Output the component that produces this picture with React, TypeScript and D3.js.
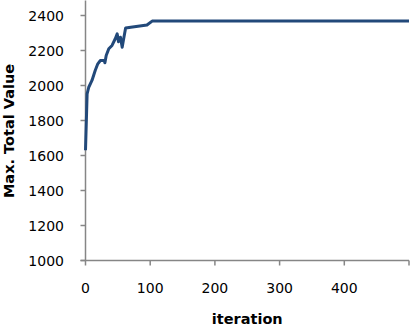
import React from "react";
import * as d3 from "d3";

const iterations = [0, 2.5, 5, 10, 15, 19, 23, 29, 30, 32, 36, 41, 46, 49, 51, 54, 56.7, 59, 62, 70, 95, 103, 150, 200, 300, 400, 500];
const values = [1630, 1952, 1990, 2029, 2086, 2124, 2143, 2143, 2130, 2171, 2210, 2229, 2267, 2295, 2250, 2276, 2219, 2267, 2328, 2333, 2346, 2368, 2368, 2368, 2368, 2368, 2368];
const xTicks = [0, 100, 200, 300, 400];
const yTicks = [1000, 1200, 1400, 1600, 1800, 2000, 2200, 2400];

export default function App() {
  const W = 412, H = 332;
  const x = d3.scaleLinear().domain([0, 500]).range([85.5, 409]);
  const y = d3.scaleLinear().domain([1000, 2400]).range([260.5, 15.5]);
  const line = d3.line<number>().x((_, i) => x(iterations[i])).y((d) => y(d));
  const axisColor = "#868686";
  const font = "'DejaVu Sans', Verdana, sans-serif";
  return (
    <svg width={W} height={H} style={{ position: "absolute", left: 0, top: 0, background: "#fff" }}>
      <rect width={W} height={H} fill="#fff" />
      <line x1={x(0)} x2={x(0)} y1={y(2400) - 15} y2={y(1000)} stroke={axisColor} strokeWidth={1.5} />
      {yTicks.map((t) => (
        <g key={t}>
          <line x1={x(0) - 5} x2={x(0)} y1={y(t)} y2={y(t)} stroke={axisColor} strokeWidth={1.5} />
          <text x={64} y={y(t)} dy="0.36em" textAnchor="end" fontFamily={font} fontSize={14} fill="#000">{t}</text>
        </g>
      ))}
      <line x1={x(0) - 5} x2={x(500)} y1={y(1000)} y2={y(1000)} stroke={axisColor} strokeWidth={1.5} />
      {[...xTicks, 500].map((t) => (
        <line key={t} x1={x(t)} x2={x(t)} y1={y(1000)} y2={y(1000) + 5} stroke={axisColor} strokeWidth={1.5} />
      ))}
      {xTicks.map((t) => (
        <text key={t} x={x(t)} y={293} textAnchor="middle" fontFamily={font} fontSize={14} fill="#000">{t}</text>
      ))}
      <path d={line(values) || ""} fill="none" stroke="#22497A" strokeWidth={3} strokeLinejoin="round" />
      <text x={(x(0) + x(500)) / 2} y={324} textAnchor="middle" fontFamily={font} fontSize={14.5} fontWeight="bold" fill="#000">iteration</text>
      <text transform={`translate(14,131) rotate(-90)`} textAnchor="middle" fontFamily={font} fontSize={14.5} fontWeight="bold" fill="#000">Max. Total Value</text>
    </svg>
  );
}
